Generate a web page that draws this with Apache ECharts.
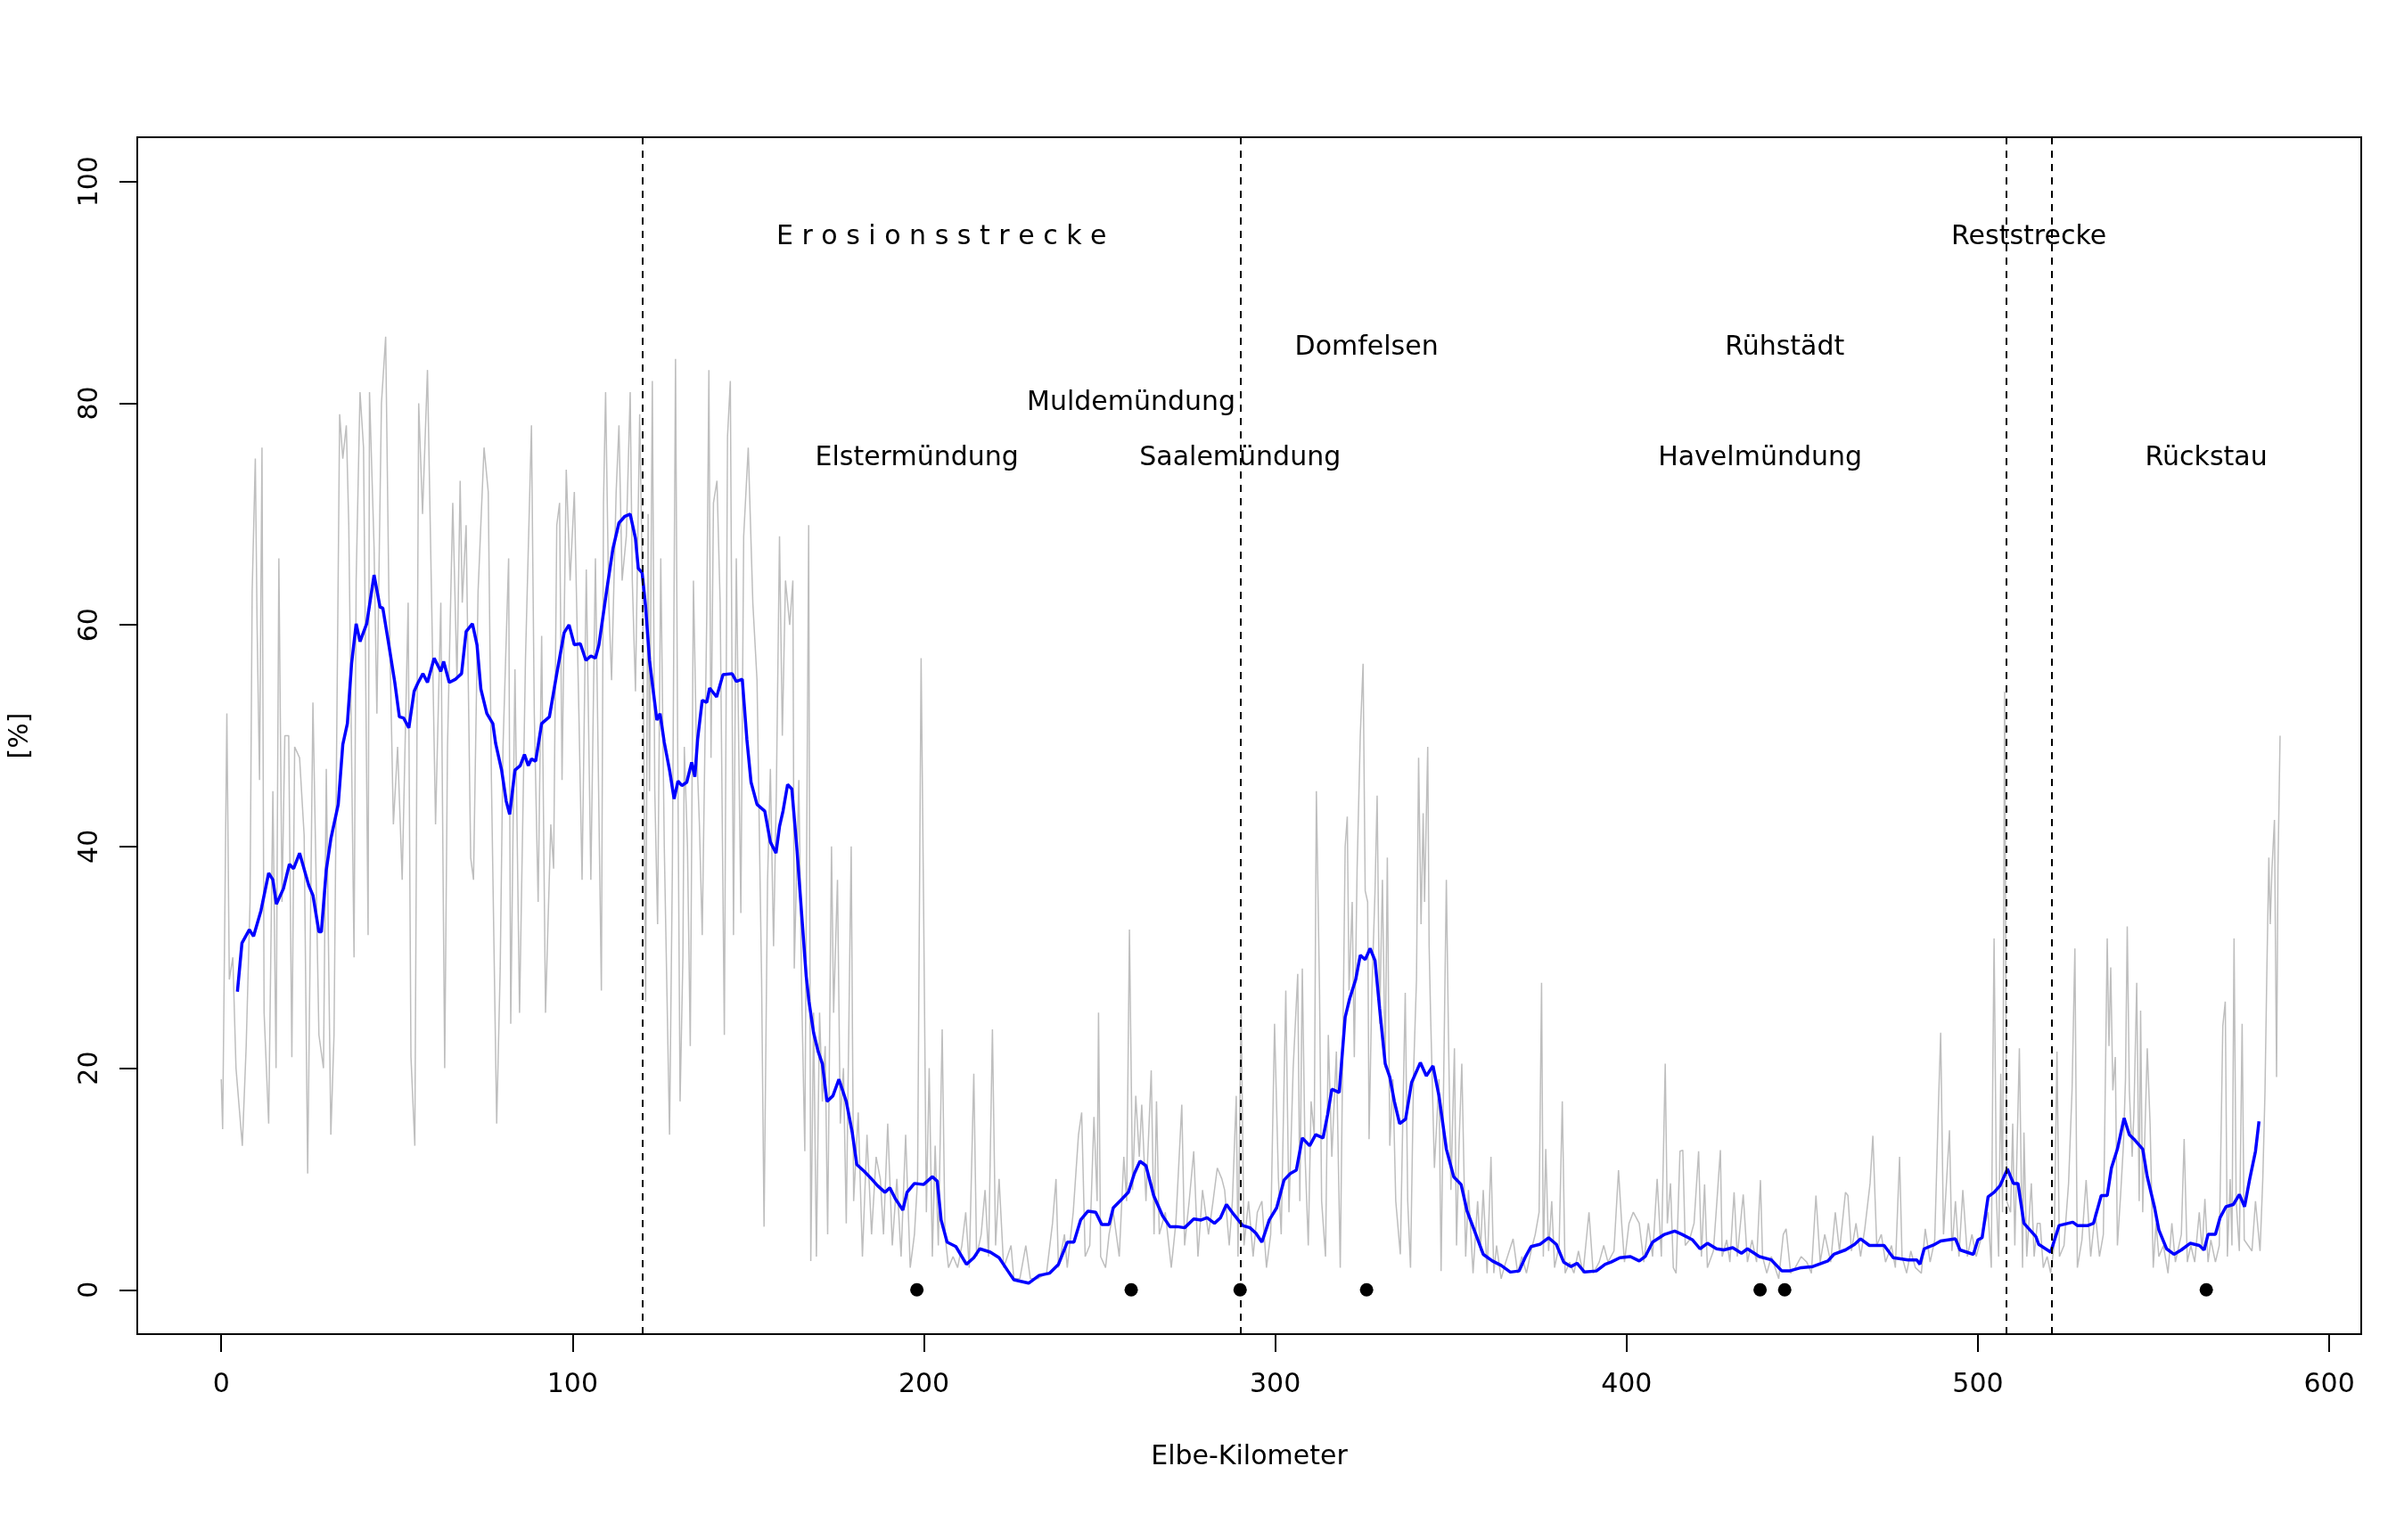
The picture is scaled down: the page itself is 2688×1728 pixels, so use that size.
<!DOCTYPE html>
<html>
<head>
<meta charset="utf-8">
<script src="https://cdn.jsdelivr.net/npm/echarts@6.0.0/dist/echarts.min.js"></script>
<style>
html,body{margin:0;padding:0;background:#fff;}
#main{width:2688px;height:1728px;}
</style>
</head>
<body>
<div id="main"></div>
<script>
// ---------- data ----------
const xTicks = [0, 100, 200, 300, 400, 500, 600];
const yTicks = [0, 20, 40, 60, 80, 100];

// raw values (grey): [Elbe-km, %]
const greyPoints = [
[0,19],[0.4,14.5],[1.6,52],[2.3,28],[3.3,30],[4.2,20],[6.0,13],[7.1,22],[8.2,35],[8.8,63],[9.7,75],[10.2,60],[10.9,46],[11.6,76],[12.2,25],[13.5,15],[14.7,45],[15.6,20],[16.4,66],[17.3,35],[18.1,50],[19.2,50],[20.1,21],[20.9,49],[22.3,48],[23.6,41],[24.6,10.5],[26.1,53],[27.8,23],[29.1,20],[29.9,47],[31.2,14],[32.1,23],[33.7,79],[34.6,75],[35.6,78],[36.3,69],[37.8,30],[38.4,64],[39.5,81],[40.5,76],[41.8,32],[42.2,81],[43.5,67],[44.3,52],[45.6,80],[46.8,86],[47.7,63],[49.0,42],[50.2,49],[51.5,37],[53.2,62],[54.0,21],[55.1,13],[56.2,80],[57.3,70],[58.7,83],[60.0,60],[61.0,42],[62.5,62],[63.6,20],[64.4,49],[65.9,71],[67.1,55],[68.0,73],[68.6,62],[69.7,69],[71.0,39],[71.8,37],[73.1,63],[74.8,76],[76.0,72],[76.9,46],[78.4,15],[79.4,29],[80.2,49],[81.8,66],[82.4,24],[83.6,56],[84.9,25],[86.6,57],[88.3,78],[89.1,52],[90.2,35],[91.2,59],[92.3,25],[93.8,42],[94.6,38],[95.5,69],[96.3,71],[97.0,46],[98.2,74],[99.3,64],[100.5,72],
[101.8,52],[102.7,37],[103.9,65],[105.2,37],[106.5,66],[108.2,27],[108.8,71],[109.4,81],[110.3,62],[111.1,55],[112.4,72],[113.2,78],[114.1,64],[115.3,68],[116.4,81],[117.0,64],[117.9,54],[119.1,79],[120.0,61],[120.8,26],[121.5,70],[121.9,45],[122.7,82],[123.4,45],[124.2,33],[125.1,66],[126.1,40],[127.6,14],[128.4,38],[129.3,84],[129.9,50],[130.6,17],[131.4,30],[131.8,49],[132.7,40],[133.5,22],[134.4,64],[135.2,50],[136.1,42],[136.9,32],[138.2,61],[138.8,83],[139.4,48],[140.1,71],[141.1,73],[142.0,62],[143.2,23],[144.1,77],[144.9,82],[145.8,32],[146.6,66],[147.9,34],[148.7,68],[150.0,76],[151.3,62],[152.5,55],[153.8,28],[154.5,5.7],[155.5,37],[156.3,47],[157.2,31],[158.0,45],[158.9,68],[159.7,50],[160.6,64],[161.8,60],[162.7,64],[163.1,29],[164.4,46],[165.2,27],[166.1,12.5],[167.2,69],[167.8,2.6],[168.6,25],[169.4,3],[170.3,25],[171.1,17],[171.9,22],[172.6,5],[173.7,40],[174.3,25],[175.4,37],[176.2,15],[177.1,20],[177.9,6],[179.3,40],[180.0,8],[181.3,16],[182.5,3],[183.8,14],[185.1,5],[186.4,12],[187.6,10],[188.5,5],[189.7,15],[191.0,4],[192.3,10],[193.5,3],[194.8,14],[196.1,2],[197.3,5],[198.2,10],[199.2,57],[199.9,35],[200.7,7],
[201.5,20],[202.4,3],[203.2,13],[204.1,4],[205.2,23.5],[206.0,5],[207.0,2],[208.3,3],[209.6,2],[210.8,4],[211.9,7],[212.9,2],[214.2,19.5],[215.0,3],[216.3,5],[217.4,9],[218.4,3],[219.5,23.5],[220.4,4],[221.4,10],[222.7,2],[224.8,4],[225.6,1],[227.3,1],[229.0,4],[230.3,1],[232.4,1],[234.9,1.5],[236.6,6],[237.6,10],[238.3,2],[240.0,5],[240.8,2],[242.5,7],[244.0,14],[244.9,16],[245.9,3],[247.2,4],[248.4,15.6],[249.3,8],[249.7,25],[250.3,3],[251.7,2],[252.7,5],[253.9,7],[255.6,3],[256.9,12],[257.7,8],[258.5,32.5],[259.4,9],[260.3,17.5],[261.3,12],[262.0,16.7],[263.2,8],[264.7,19.8],[265.5,5],[266.2,17],[267.0,5],[268.7,7],[270.4,2],[271.7,6],[273.4,16.7],[274.2,4],[275.5,8],[276.8,12.5],[278.0,3],[279.3,9],[281.0,5],[282.3,8],[283.5,11],[284.8,10],[285.6,9],[286.9,4],[287.8,8],[288.9,17.5],[289.4,3],[290.3,25.7],[291.1,4],[292.4,8],[293.7,3],[294.9,7],[296.2,8],[297.5,2],[298.7,5],[299.8,24],[300.9,10],[301.7,5],[303.0,27],[303.9,7],[305.1,20],[306.4,28.5],[307.0,8],[307.7,29],
[308.5,12],[309.4,4],[310.2,17],[311.1,14],[311.7,45],[312.6,27],[313.2,8],[314.3,3],[315.1,23],[316.1,12],[317.4,21.5],[318.5,2],[319.9,40],[320.5,42.7],[321.0,27],[321.9,35],[322.5,21],[323.3,38],[324.2,50],[325.0,56.5],[325.6,36],[326.3,35],[326.7,13.6],[327.5,27],[328.4,36],[329.0,44.6],[329.7,24],[330.5,37],[331.3,20],[331.9,39],[332.6,13],[333.5,19],[334.3,8],[335.6,3.2],[336.4,17],[337.0,26.8],[337.7,8],[338.5,2],[339.4,20],[340.2,28],[340.8,48],[341.5,33],[342.1,43],[342.5,35],[343.4,49],[343.8,31],[344.2,25],[345.3,11],[346.6,19],[347.2,1.7],[348.7,37],[349.3,23],[350.0,9],[351.0,21.8],[351.6,4],[352.3,13],[353.1,20.4],[354.2,3],[355.0,9],[356.3,1.5],[357.6,8],[358.4,3.5],[359.2,9],[360.3,1.5],[361.4,12],[362.2,1.5],[363.0,4],[364.3,1],[365.6,2.5],[367.7,4.6],[369.0,1.5],[370.2,3],[371.5,1.5],[372.8,3.5],[374.0,5],[375.1,7],[375.8,27.7],[376.3,3],[377.0,12.7],[377.8,3.5],[378.7,8],[379.5,2],[380.8,4],[381.7,17],[382.5,1.5],[383.8,2.5],[385.0,1.5],[386.3,3.5],[387.6,1.5],[389.3,7],[390.5,1.5],[392.2,2.5],[393.5,4],[394.7,2.5],[396.4,3.5],[397.7,10.8],[398.6,6],[399.4,2.5],[400.7,6],[401.9,7],[403.6,6],[404.9,2.5],[406.2,6],[407.4,3],[408.7,10],
[409.9,3],[411.0,20.4],[411.6,6],[412.5,9.6],[413.3,2],[414.1,1.5],[415.2,12.5],[416.0,12.6],[416.7,4],[417.9,4.5],[419.2,6],[420.5,12.5],[421.3,3],[422.2,9.5],[423.0,2],[424.7,3.5],[425.6,7.5],[426.7,12.6],[427.2,3],[428.5,4.5],[429.4,2.5],[430.6,8.8],[431.5,3],[433.2,8.6],[434.4,2.5],[435.7,4.5],[437.0,2.5],[438.1,9.9],[438.7,3],[439.9,1.5],[441.2,3],[443.3,1],[444.6,5],[445.4,5.5],[446.7,1.5],[448.0,2],[449.7,3],[451.3,2.5],[452.6,1.5],[453.9,8.5],[455.1,2.5],[456.4,5],[458.1,2.5],[459.4,7],[460.6,3.5],[462.3,8.8],[463.0,8.5],[464.0,3.5],[465.3,6],[466.6,3],[467.8,5.5],[469.3,9.6],[470.1,13.9],[471.2,4],[472.5,5],[473.7,2.5],[475.4,4],[476.5,2],[477.7,12],[478.4,3],[479.7,1.5],[480.9,3.5],[482.2,2],[483.9,1.5],[485.0,5.5],[486.4,2.5],[487.7,4.5],[488.8,17],[489.4,23.2],[490.2,5],[491.9,14.4],[492.6,3.5],[493.6,8],[494.6,3],[495.7,9],[497.0,3],[498.3,5],[499.5,3],[501.2,5],[502.9,7],[503.8,2],[504.2,18.4],[504.6,31.7],[505.3,8],[505.9,3],[506.5,19.5],[507.0,7],[507.6,54],[508.2,8],[509.3,7],[509.9,15],[510.5,4],
[511.8,21.8],[512.7,2],[513.1,14.2],[513.9,3],[515.2,9.6],[516.0,3],[516.9,6],[517.7,6],[518.6,2],[519.7,3],[520.7,1.5],[521.7,4],[522.5,21.5],[523.2,3],[524.5,4],[525.8,9.6],[526.8,18.1],[527.6,30.8],[528.3,2],[529.6,4.5],[530.8,9.9],[532.1,3],[533.4,7],[534.6,3],[535.7,5],[536.8,31.7],[537.3,22],[537.8,29.1],[538.4,18],[539.1,21],[539.7,4],[540.6,8.5],[541.4,13],[542.0,19],[542.5,32.8],[543.1,18],[543.9,12],[544.4,16],[545.2,27.7],[545.9,8],[546.3,25.2],[546.9,7],[548.2,21.8],[549.0,15],[549.9,2],[550.7,6],[551.5,3],[552.8,4],[554.1,1.5],[555.2,6],[556.2,2.5],[557.9,5],[558.7,13.6],[559.6,2.5],[560.6,4],[561.7,2.5],[563.0,7],[563.8,3.5],[564.6,8.2],[565.5,2.5],[566.3,4.5],[567.6,2.5],[568.7,4],[569.7,23.8],[570.4,26],[571.0,3],[571.8,10],[572.3,4],[572.9,31.7],[573.5,8],[574.4,3.5],[575.2,24],[575.8,4.5],[576.9,4],[578.0,3.5],[579.0,8],[580.3,3.5],[581.1,10.2],[581.7,17.8],[582.2,28],[582.8,39],[583.2,33],[583.7,38],[584.4,42.4],[585.0,19.2],[585.4,38],[586.0,50]
];

// smoothed values (blue): [Elbe-km, %]
const bluePoints = [
[4.6,26.9],[5.9,31.3],[8.0,32.5],[9.2,31.9],[11.3,34.2],[13.5,37.6],[14.7,37.0],[15.7,34.8],[17.7,36.2],[19.4,38.4],[20.6,38.0],[22.3,39.4],[24.9,36.5],[26.1,35.6],[27.8,32.3],[28.5,32.3],[29.9,37.9],[31.2,40.7],[33.3,43.8],[34.6,49.2],[35.9,51.1],[37.1,56.5],[38.4,60.1],[39.5,58.5],[41.4,60.1],[43.5,64.5],[45.2,61.6],[46.0,61.5],[47.7,58.2],[49.4,54.8],[50.7,51.7],[51.9,51.6],[53.4,50.7],[54.9,54.0],[55.9,54.7],[57.4,55.6],[58.7,54.8],[60.6,57.0],[62.5,55.8],[63.3,56.7],[64.9,54.8],[66.7,55.1],[68.4,55.6],[69.7,59.4],[71.5,60.1],[72.8,58.2],[73.9,54.2],[75.6,52.0],[77.3,51.1],[78.1,49.3],[79.8,46.9],[81.1,44.1],[82.1,42.9],[83.6,46.9],[85.1,47.3],[86.3,48.3],[87.4,47.3],[88.3,47.9],[89.5,47.7],[91.2,51.1],[93.4,51.7],[95.5,55.6],[97.6,59.3],[99.0,60.0],[100.5,58.2],
[102.2,58.3],[103.8,56.8],[105.2,57.2],[106.5,57.0],[107.5,58.2],[109.8,63.3],[111.5,66.9],[113.2,69.2],[114.9,69.8],[116.4,70.0],[117.9,67.8],[118.7,65.1],[119.8,64.7],[120.8,61.6],[121.9,56.8],[122.9,54.2],[124.0,51.4],[124.9,52.0],[126.1,49.4],[127.6,46.9],[128.9,44.3],[130.0,45.9],[131.1,45.5],[132.5,45.8],[133.9,47.6],[134.8,46.3],[135.6,49.7],[136.9,53.2],[138.2,53.0],[139.0,54.3],[141.0,53.5],[142.8,55.5],[145.4,55.6],[146.6,54.9],[148.3,55.1],[149.6,49.7],[150.8,45.8],[152.5,43.8],[154.7,43.2],[156.3,40.4],[157.9,39.4],[158.9,41.8],[159.9,43.2],[161.2,45.6],[162.4,45.2],[163.9,39.6],[165.2,33.9],[166.5,28.3],[167.3,26.0],[168.6,23.2],[169.9,21.5],[171.1,20.4],[172.4,17.0],[174.1,17.5],[175.8,19.0],[177.9,17.0],[179.6,14.2],[180.9,11.3],[183.0,10.7],[185.1,10.0],[186.8,9.4],[188.9,8.8],[190.3,9.2],[191.9,8.2],[194.0,7.2],[195.2,8.8],[197.3,9.6],[199.9,9.5],[202.4,10.2],[203.8,9.8],
[204.9,6.3],[206.6,4.3],[209.1,3.9],[212.1,2.3],[214.2,2.9],[215.9,3.7],[218.9,3.4],[221.4,2.9],[223.9,1.7],[225.6,0.9],[229.8,0.6],[232.8,1.3],[235.8,1.5],[238.3,2.3],[240.8,4.3],[242.7,4.3],[244.6,6.3],[246.7,7.1],[248.9,7.0],[250.6,5.9],[252.7,5.9],[253.9,7.4],[256.1,8.1],[258.2,8.8],[259.9,10.5],[261.5,11.6],[263.2,11.2],[265.4,8.5],[267.9,6.7],[270.0,5.7],[272.1,5.7],[274.2,5.6],[276.8,6.4],[278.9,6.3],[280.6,6.5],[282.7,6.0],[284.4,6.5],[286.1,7.7],[288.2,6.8],[290.7,5.8],[292.8,5.6],[294.5,5.1],[296.2,4.3],[298.3,6.3],[300.4,7.4],[302.5,9.9],
[304.3,10.5],[306.0,10.8],[307.7,13.7],[309.8,13.0],[311.5,14.0],[313.6,13.7],[314.9,15.8],[316.1,18.1],[318.2,17.8],[319.9,24.6],[321.2,26.3],[322.9,28.0],[324.2,30.2],[325.6,29.8],[327.0,30.8],[328.4,29.7],[329.7,25.4],[331.3,20.4],[332.6,19.2],[333.9,17.0],[335.4,15.0],[337.1,15.4],[338.8,18.7],[341.3,20.5],[343.0,19.3],[344.9,20.2],[346.6,17.5],[348.7,12.7],[350.8,10.2],[352.9,9.5],[354.6,7.1],[357.1,5.0],[359.2,3.2],[361.8,2.6],[364.3,2.2],[366.9,1.6],[369.4,1.7],[371.1,2.9],[372.8,3.9],[375.3,4.1],[377.8,4.7],[380.0,4.1],[382.1,2.5],[384.2,2.1],[385.9,2.4],[388.0,1.6],[391.4,1.7],[393.9,2.3],[395.6,2.5],[398.1,2.9],[401.1,3.0],[403.6,2.6],[405.3,3.0],
[407.4,4.3],[410.8,5.0],[413.7,5.3],[415.8,5.0],[418.8,4.5],[420.9,3.7],[423.0,4.2],[425.6,3.7],[427.7,3.6],[430.2,3.8],[432.7,3.3],[434.4,3.7],[437.8,3.0],[441.2,2.7],[444.2,1.7],[446.3,1.7],[449.7,2.0],[453.0,2.1],[457.3,2.6],[459.0,3.2],[462.3,3.6],[464.9,4.1],[466.6,4.6],[469.1,4.0],[473.3,4.0],[475.9,2.9],[480.1,2.7],[482.6,2.7],[483.5,2.3],[484.7,3.7],[487.7,4.1],[489.4,4.4],[493.6,4.6],[494.9,3.6],[498.7,3.2],[500.0,4.5],[501.2,4.7],[502.9,8.4],[504.6,8.8],[506.3,9.4],[508.4,10.9],[510.1,9.6],
[511.4,9.6],[513.1,6.0],[514.8,5.4],[516.5,4.8],[517.3,4.1],[520.7,3.4],[523.1,5.8],[527.0,6.1],[528.3,5.8],[531.3,5.8],[532.9,6.0],[535.1,8.5],[536.8,8.5],[538.0,11.0],[539.7,12.7],[541.6,15.5],[543.1,14.0],[544.4,13.6],[546.9,12.7],[548.2,10.2],[550.3,7.4],[551.5,5.4],[553.7,3.7],[555.8,3.2],[557.9,3.6],[560.4,4.2],[563.0,4.0],[564.4,3.6],[565.5,5.0],[567.6,5.0],[568.9,6.5],[570.6,7.5],[572.7,7.7],[574.4,8.6],[575.9,7.5],[577.3,9.9],[579.0,12.5],[580.0,15.2]
];

// locations marked with dots at 0 %
const siteKm = [198, 259, 290, 326, 438, 445, 565];
// section boundaries (dashed lines)
const boundaryKm = [120, 290, 508, 521];
// annotations
const labelText = ['E r o s i o n s s t r e c k e', 'Reststrecke', 'Domfelsen', 'Rühstädt', 'Muldemündung', 'Elstermündung', 'Saalemündung', 'Havelmündung', 'Rückstau'];
const labelKm   = [205, 514.5, 326, 445, 259, 198, 290, 438, 565];
const labelPct  = [95, 95, 85, 85, 80, 75, 75, 75, 75];

// ---------- chart ----------
const FONT = 'DejaVu Sans';
const chart = echarts.init(document.getElementById('main'), null, {renderer: 'canvas'});
const option = {
  animation: false,
  backgroundColor: '#ffffff',
  textStyle: {fontFamily: FONT},
  grid: {left: 153, right: 39, top: 154, bottom: 231, show: true, borderColor: '#000', borderWidth: 2, backgroundColor: 'transparent'},
  xAxis: {
    type: 'value', min: -23.9, max: 609.1, position: 'bottom',
    axisLine: {show: false, onZero: false}, splitLine: {show: false},
    axisTick: {show: true, customValues: xTicks, length: 20, lineStyle: {color: '#000', width: 2}},
    axisLabel: {customValues: xTicks, margin: 42, fontSize: 30, color: '#000', fontFamily: FONT},
    name: 'Elbe-Kilometer', nameLocation: 'middle', nameGap: 123,
    nameTextStyle: {fontSize: 30, color: '#000', fontFamily: FONT}
  },
  yAxis: {
    type: 'value', min: -4, max: 104,
    axisLine: {show: false, onZero: false}, splitLine: {show: false},
    axisTick: {show: true, customValues: yTicks, length: 20, lineStyle: {color: '#000', width: 2}},
    axisLabel: {customValues: yTicks, rotate: 90, margin: 38, fontSize: 30, color: '#000', fontFamily: FONT},
    name: '[%]', nameLocation: 'middle', nameGap: 116, nameRotate: 90,
    nameTextStyle: {fontSize: 30, color: '#000', fontFamily: FONT}
  },
  series: [
    {
      type: 'line', data: greyPoints, showSymbol: false, symbol: 'none',
      lineStyle: {color: '#BEBEBE', width: 1.5}, z: 1, silent: true
    },
    {
      type: 'line', data: bluePoints, showSymbol: false, symbol: 'none',
      lineStyle: {color: '#0000FF', width: 3.5}, z: 2, silent: true
    },
    {
      type: 'scatter', data: siteKm.map(k => [k, 0]), symbolSize: 15,
      itemStyle: {color: '#000', opacity: 1}, z: 3, silent: true,
      markLine: {
        silent: true, symbol: ['none', 'none'], label: {show: false},
        lineStyle: {color: '#000', width: 2, type: [8, 7], opacity: 1},
        data: boundaryKm.map(k => ({xAxis: k}))
      }
    },
    {
      type: 'custom', z: 4, silent: true,
      data: labelKm.map((k, i) => [k, labelPct[i]]),
      renderItem: function (params, api) {
        const p = api.coord([api.value(0), api.value(1)]);
        return {
          type: 'text', x: p[0], y: p[1],
          style: {text: labelText[params.dataIndex], fill: '#000', font: '30px "DejaVu Sans"', align: 'center', verticalAlign: 'middle'}
        };
      }
    }
  ]
};
chart.setOption(option);
</script>
</body>
</html>
